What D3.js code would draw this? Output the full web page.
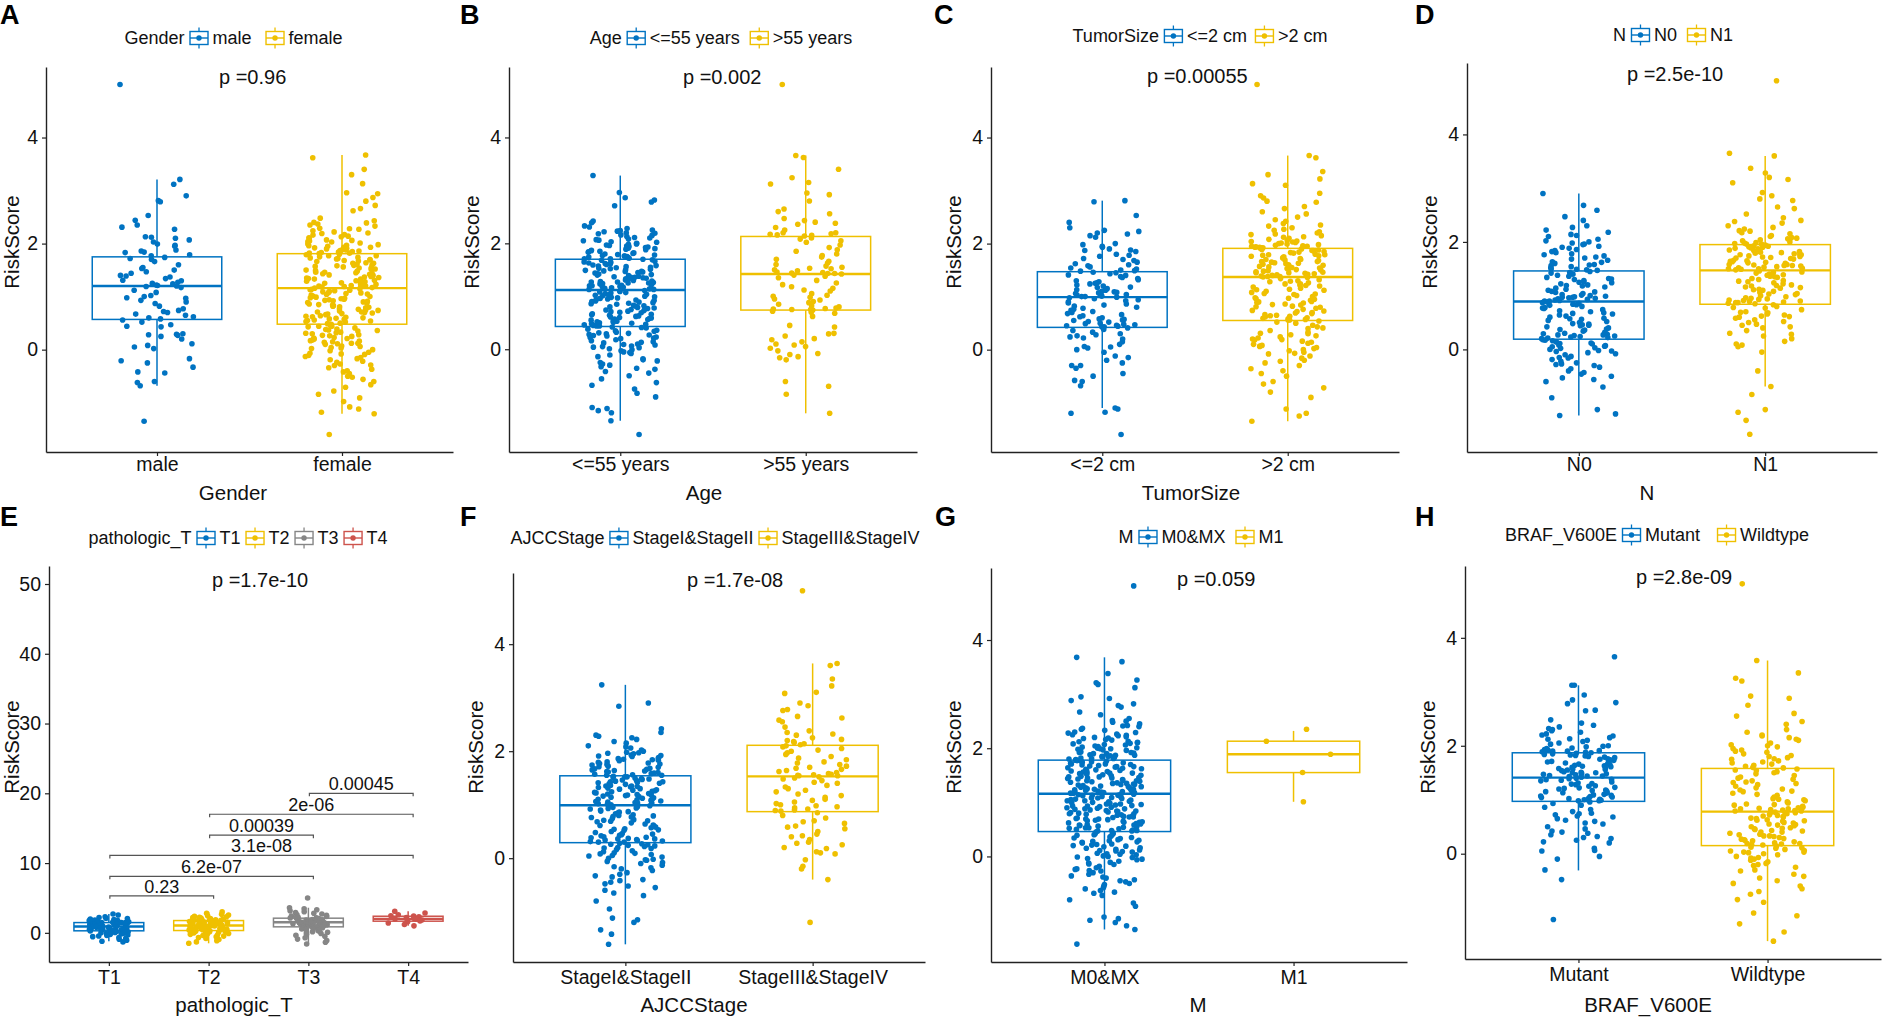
<!DOCTYPE html>
<html><head><meta charset="utf-8">
<script src="https://cdn.jsdelivr.net/npm/d3@7"></script>
<style>
body{margin:0;background:#fff}
svg{display:block}
text{font-family:"Liberation Sans",Arial,Helvetica,sans-serif}
</style>
</head><body>
<svg id="c" width="1882" height="1018"></svg>
<script>
// ---------------- DATA ----------------
const panelLetters = ["A","B","C","D","E","F","G","H"];
const varNames = ["Gender","Age","TumorSize","N","pathologic_T","AJCCStage","M","BRAF_V600E"];
const categories = [
  ["male","female"],["<=55 years",">55 years"],["<=2 cm",">2 cm"],["N0","N1"],
  ["T1","T2","T3","T4"],["StageI&StageII","StageIII&StageIV"],["M0&MX","M1"],["Mutant","Wildtype"]
];
const pLabels = ["p =0.96","p =0.002","p =0.00055","p =2.5e-10","p =1.7e-10","p =1.7e-08","p =0.059","p =2.8e-09"];
const yTicksSmall = [0,2,4];
const yTicksT = [0,10,20,30,40,50];
const pLabelValueT = 50;   // label.y of the overall p-value in panel E

// box statistics: [q1, median, q3, lower whisker, upper whisker]
const statsGender = [[.57,1.20,1.75,-.68,3.21],[.48,1.16,1.81,-1.21,3.67]];
const statsAge    = [[.43,1.12,1.70,-1.35,3.28],[.74,1.42,2.13,-1.21,3.66]];
const statsSize   = [[.42,.99,1.47,-1.10,2.81],[.55,1.37,1.91,-1.35,3.66]];
const statsN      = [[.19,.89,1.46,-1.23,2.90],[.84,1.47,1.95,-.69,3.60]];
const statsT      = [[.29,.90,1.47,-1.2,2.7],[.33,1.05,1.76,-1.5,3.0],[.86,1.52,2.10,-1.6,3.6],[1.67,2.0,2.38,1.0,3.1]];
const statsStage  = [[.29,.99,1.54,-1.61,3.24],[.87,1.53,2.11,-.40,3.64]];
const statsM      = [[.46,1.16,1.78,-1.35,3.68],[1.55,1.89,2.13,1.01,2.32]];
const statsBraf   = [[.97,1.41,1.87,-.31,3.12],[.15,.78,1.58,-1.62,3.58]];

// individual RiskScore values per group
const male = [5.0,-1.35,3.21,3.12,2.9,2.81,2.79,2.53,2.44,2.35,2.31,2.27,2.13,2.12,2.1,2.07,2.03,1.99,1.97,1.95,1.88,1.86,1.84,1.83,1.79,1.77,1.74,1.72,1.7,1.66,1.6,1.55,1.53,1.5,1.47,1.44,1.4,1.39,1.37,1.34,1.31,1.3,1.27,1.25,1.24,1.22,1.21,1.2,1.19,1.17,1.12,1.08,1.02,1.0,.98,.97,.93,.9,.87,.82,.77,.74,.72,.7,.67,.65,.62,.6,.58,.56,.52,.47,.44,.43,.3,.29,.28,.27,.25,.2,.11,.08,.05,.02,-.17,-.21,-.25,-.33,-.42,-.44,-.6,-.62,-.68];
const female = [3.67,3.62,3.4,3.3,3.13,2.96,2.94,2.87,2.8,2.72,2.66,2.62,2.48,2.43,2.4,2.39,2.37,2.35,2.33,2.29,2.27,2.24,2.22,2.2,2.19,2.17,2.14,2.13,2.11,2.1,2.07,2.06,2.04,2.03,2.01,1.99,1.98,1.96,1.95,1.93,1.92,1.91,1.9,1.88,1.87,1.86,1.85,1.84,1.83,1.82,1.82,1.8,1.79,1.77,1.77,1.75,1.73,1.72,1.71,1.7,1.68,1.67,1.66,1.64,1.63,1.61,1.6,1.59,1.57,1.56,1.55,1.54,1.52,1.5,1.49,1.48,1.46,1.45,1.44,1.42,1.41,1.4,1.38,1.36,1.35,1.34,1.33,1.31,1.3,1.29,1.28,1.26,1.25,1.24,1.23,1.21,1.2,1.2,1.19,1.18,1.17,1.16,1.15,1.14,1.12,1.11,1.1,1.08,1.07,1.06,1.04,1.03,1.01,1.0,.99,.97,.96,.95,.93,.92,.9,.89,.88,.86,.84,.83,.82,.8,.79,.77,.75,.74,.73,.71,.7,.69,.67,.66,.64,.63,.61,.6,.58,.57,.56,.54,.53,.52,.5,.49,.48,.46,.44,.43,.41,.38,.37,.35,.32,.31,.3,.28,.27,.25,.23,.22,.2,.18,.16,.15,.12,.11,.1,.07,.06,.04,.02,0,-.02,-.05,-.08,-.11,-.13,-.17,-.19,-.22,-.27,-.3,-.34,-.37,-.42,-.45,-.5,-.56,-.6,-.66,-.71,-.78,-.84,-.91,-.98,-1.08,-1.12,-1.18,-1.21,-1.6,
  1.93,1.74,1.52,1.37,1.28,1.09,.98,.85,.71,.62,.44,.33,.21,.14,-.09,-.29,-.52,2.16,2.05,1.88,1.69,1.58,1.46,1.33,1.19,1.05,.94,.81,.68,.55,.39,.26,.12,.03,-.15,-.4,2.28,1.97,1.81,1.63,1.43,1.27,1.13,.91,.76,.59,.36,.17,-.07,-.24];
const ageLe55 = [3.28,2.96,2.86,2.82,2.78,2.71,2.42,2.39,2.33,2.31,2.28,2.25,2.23,2.22,2.2,2.18,2.16,2.15,2.13,2.1,2.08,2.07,2.05,2.03,2.02,2.0,1.99,1.98,1.96,1.95,1.93,1.92,1.91,1.9,1.88,1.87,1.86,1.85,1.84,1.83,1.81,1.8,1.79,1.78,1.77,1.76,1.75,1.74,1.73,1.72,1.71,1.71,1.69,1.68,1.66,1.65,1.64,1.62,1.61,1.6,1.59,1.57,1.56,1.55,1.54,1.53,1.51,1.5,1.49,1.48,1.47,1.46,1.44,1.43,1.42,1.41,1.4,1.38,1.37,1.36,1.35,1.34,1.33,1.31,1.3,1.29,1.28,1.27,1.26,1.25,1.24,1.23,1.22,1.21,1.2,1.19,1.18,1.17,1.16,1.15,1.14,1.13,1.13,1.11,1.1,1.09,1.07,1.06,1.05,1.03,1.02,1.0,.99,.98,.96,.95,.93,.92,.91,.89,.88,.86,.85,.83,.82,.8,.79,.77,.76,.74,.73,.72,.7,.69,.67,.66,.64,.63,.61,.6,.58,.57,.56,.54,.53,.51,.5,.48,.47,.46,.45,.44,.44,.42,.4,.38,.36,.34,.32,.3,.29,.27,.26,.25,.23,.22,.2,.18,.16,.14,.12,.1,.08,.06,.05,.03,.01,-.01,-.03,-.05,-.08,-.11,-.14,-.18,-.22,-.25,-.28,-.3,-.33,-.38,-.42,-.45,-.5,-.56,-.63,-.68,-.75,-.83,-.9,-1.1,-1.12,-1.16,-1.2,-1.35,-1.61,
  2.19,2.06,1.94,1.82,1.7,1.63,1.52,1.45,1.39,1.32,1.25,1.18,1.08,1.01,.94,.87,.78,.71,.62,.55,.49,.41,.35,.28,.21,.13,.04,-.06,-.2,-.36,2.24,2.11,1.97,1.89,1.76,1.58,1.47,1.36,1.27,1.2,1.04,.97,.9,.81,.75,.65,.59,.52,.31,.09];
const ageGt55 = [5.0,3.66,3.62,3.4,3.24,3.15,3.12,2.95,2.92,2.8,2.65,2.6,2.56,2.47,2.43,2.4,2.38,2.36,2.3,2.25,2.2,2.2,2.18,2.17,2.16,2.15,2.14,2.1,2.08,2.05,2.02,1.97,1.92,1.88,1.85,1.8,1.77,1.74,1.7,1.66,1.63,1.6,1.57,1.55,1.53,1.52,1.5,1.48,1.46,1.45,1.44,1.43,1.43,1.42,1.4,1.38,1.35,1.3,1.25,1.22,1.18,1.15,1.12,1.1,1.05,1.02,1.0,.98,.95,.93,.9,.88,.85,.82,.8,.78,.77,.76,.75,.75,.74,.72,.7,.68,.62,.45,.42,.3,.29,.25,.2,.18,.14,.1,.08,.05,.02,-.03,-.08,-.1,-.14,-.16,-.2,-.61,-.7,-.85,-1.21];
const sizeLe2 = [2.81,2.79,2.53,2.4,2.3,2.25,2.23,2.2,2.18,2.15,2.12,2.0,1.98,1.95,1.93,1.9,1.88,1.87,1.85,1.8,1.78,1.76,1.72,1.7,1.68,1.65,1.62,1.6,1.58,1.56,1.54,1.52,1.5,1.49,1.48,1.46,1.45,1.43,1.41,1.4,1.38,1.36,1.34,1.32,1.3,1.28,1.26,1.25,1.24,1.22,1.2,1.18,1.17,1.15,1.14,1.13,1.12,1.1,1.09,1.08,1.07,1.06,1.05,1.04,1.03,1.02,1.01,1.0,1.0,.99,.98,.96,.94,.92,.9,.88,.86,.84,.82,.8,.78,.76,.74,.72,.7,.68,.66,.64,.62,.6,.58,.57,.56,.55,.53,.52,.5,.49,.48,.47,.46,.45,.44,.43,.43,.41,.38,.36,.33,.3,.28,.26,.24,.22,.2,.15,.1,.06,.05,.03,0,-.05,-.12,-.15,-.2,-.25,-.3,-.3,-.35,-.45,-.5,-.58,-.6,-.68,-1.1,-1.12,-1.18,-1.2,-1.6];
const sizeGt2 = [5.0,3.66,3.62,3.36,3.3,3.22,3.13,3.1,2.95,2.9,2.86,2.8,2.78,2.7,2.66,2.6,2.56,2.5,2.45,2.42,2.38,2.35,2.33,2.3,2.27,2.25,2.22,2.2,2.18,2.15,2.13,2.12,2.1,2.08,2.06,2.05,2.03,2.02,2.01,2.0,1.99,1.98,1.97,1.96,1.95,1.94,1.93,1.93,1.92,1.92,1.9,1.89,1.88,1.87,1.86,1.85,1.84,1.83,1.82,1.8,1.79,1.78,1.77,1.76,1.75,1.73,1.72,1.7,1.69,1.68,1.66,1.65,1.64,1.63,1.62,1.6,1.59,1.58,1.57,1.56,1.55,1.54,1.52,1.51,1.5,1.49,1.48,1.47,1.46,1.45,1.44,1.43,1.42,1.41,1.4,1.39,1.38,1.38,1.36,1.34,1.32,1.3,1.28,1.26,1.24,1.22,1.2,1.18,1.16,1.14,1.12,1.1,1.08,1.06,1.04,1.02,1.0,.98,.96,.95,.93,.91,.9,.88,.86,.84,.82,.8,.78,.76,.74,.72,.7,.69,.68,.66,.65,.64,.62,.6,.59,.58,.57,.56,.56,.54,.5,.46,.43,.4,.36,.33,.3,.28,.26,.24,.22,.2,.18,.16,.14,.12,.1,.08,.06,.04,.02,0,-.02,-.05,-.08,-.12,-.16,-.2,-.25,-.3,-.36,-.4,-.45,-.5,-.6,-.65,-.72,-.8,-.9,-1.12,-1.2,-1.25,-1.35,
  2.17,2.04,1.95,1.87,1.79,1.7,1.61,1.53,1.45,1.37,1.29,1.21,1.13,1.05,.97,.89,.81,.73,.63,.52,.41,.31,.19,.07,-.07,-.22,1.91,1.66,1.24,.85];
const nodeN0 = [2.9,2.68,2.59,2.47,2.4,2.3,2.27,2.22,2.18,2.14,2.12,2.1,2.05,2.02,2.0,1.98,1.95,1.92,1.9,1.88,1.86,1.84,1.82,1.8,1.78,1.76,1.72,1.7,1.68,1.66,1.63,1.6,1.58,1.56,1.54,1.52,1.5,1.49,1.48,1.47,1.45,1.43,1.41,1.4,1.38,1.36,1.34,1.32,1.3,1.28,1.26,1.24,1.22,1.2,1.18,1.16,1.14,1.12,1.1,1.08,1.06,1.04,1.02,1.01,1.0,.99,.98,.97,.96,.95,.94,.93,.92,.91,.9,.9,.88,.86,.84,.82,.8,.78,.76,.74,.72,.7,.68,.66,.64,.62,.6,.58,.56,.54,.52,.5,.48,.46,.44,.42,.4,.38,.36,.34,.32,.3,.29,.28,.27,.26,.25,.24,.23,.22,.21,.2,.18,.16,.14,.12,.1,.08,.06,.05,.03,.02,0,-.02,-.04,-.06,-.08,-.1,-.13,-.16,-.19,-.22,-.25,-.28,-.3,-.33,-.36,-.4,-.43,-.46,-.5,-.53,-.56,-.6,-.7,-.9,-1.12,-1.2,-1.23,
  1.96,1.74,1.57,1.42,1.31,1.19,1.07,.97,.87,.77,.67,.57,.47,.37,.27,.17,.07,-.03,-.15,-.27,1.62,1.25,.83,.45,.11];
const nodeN1 = [5.0,3.65,3.6,3.37,3.28,3.2,3.16,3.1,2.92,2.86,2.8,2.77,2.65,2.62,2.52,2.45,2.4,2.38,2.35,2.3,2.27,2.24,2.2,2.17,2.15,2.12,2.1,2.08,2.06,2.04,2.02,2.0,1.99,1.98,1.97,1.96,1.94,1.93,1.92,1.9,1.89,1.88,1.86,1.85,1.84,1.82,1.81,1.8,1.78,1.77,1.76,1.74,1.73,1.72,1.7,1.69,1.68,1.66,1.65,1.64,1.62,1.61,1.6,1.58,1.57,1.56,1.55,1.54,1.53,1.52,1.51,1.5,1.49,1.48,1.46,1.44,1.42,1.4,1.38,1.36,1.34,1.32,1.3,1.28,1.26,1.24,1.22,1.2,1.18,1.16,1.14,1.12,1.1,1.08,1.06,1.04,1.02,1.0,.98,.96,.94,.93,.92,.91,.9,.89,.88,.87,.86,.85,.83,.8,.77,.74,.7,.68,.66,.64,.62,.6,.58,.55,.52,.5,.47,.45,.42,.4,.35,.3,.28,.25,.2,.15,.1,.08,.05,-.05,-.4,-.69,-.84,-1.12,-1.17,-1.32,-1.58,
  2.21,2.07,1.96,1.87,1.79,1.71,1.63,1.56,1.5,1.43,1.35,1.27,1.19,1.11,1.03,.95,.87,.78,.69,.61,1.91,1.76,1.58,1.39,1.15];
const stageT1 = [2.7,2.55,2.3,2.2,2.1,2.05,1.98,1.92,1.85,1.8,1.75,1.7,1.66,1.62,1.58,1.55,1.52,1.5,1.48,1.46,1.43,1.4,1.37,1.34,1.31,1.28,1.25,1.22,1.19,1.15,1.12,1.09,1.05,1.02,.99,.96,.93,.91,.88,.85,.82,.79,.76,.72,.69,.66,.62,.58,.55,.51,.47,.44,.4,.36,.33,.3,.27,.24,.2,.16,.12,.08,.04,0,-.05,-.1,-.16,-.22,-.3,-.38,-.46,-.55,-.66,-.78,-.92,-1.05,-1.2,-1.3];
const stageT2 = [3.0,2.8,2.65,2.55,2.45,2.38,2.3,2.24,2.18,2.12,2.06,2.0,1.96,1.92,1.88,1.84,1.8,1.78,1.76,1.73,1.7,1.66,1.62,1.58,1.55,1.52,1.48,1.45,1.42,1.38,1.35,1.32,1.28,1.25,1.22,1.18,1.15,1.12,1.09,1.06,1.04,1.01,.98,.95,.92,.88,.85,.82,.78,.75,.72,.68,.65,.62,.58,.55,.52,.48,.45,.42,.39,.36,.34,.31,.28,.24,.2,.16,.12,.08,.04,0,-.05,-.1,-.16,-.22,-.3,-.38,-.47,-.56,-.67,-.8,-.95,-1.12,-1.3,-1.5];
const stageT3 = [5.0,3.6,3.45,3.3,3.15,3.02,2.9,2.8,2.7,2.6,2.5,2.42,2.35,2.28,2.22,2.16,2.12,2.08,2.04,2.0,1.96,1.92,1.88,1.84,1.8,1.76,1.72,1.68,1.64,1.6,1.56,1.53,1.5,1.47,1.44,1.4,1.36,1.32,1.28,1.24,1.2,1.16,1.12,1.08,1.04,1.0,.96,.92,.88,.85,.8,.74,.68,.62,.55,.48,.4,.32,.24,.16,.08,0,-.1,-.22,-.35,-.5,-.7,-.9,-1.1,-1.35,-1.6];
const stageT4 = [3.1,2.85,2.6,2.45,2.4,2.3,2.2,2.1,2.0,1.95,1.85,1.75,1.7,1.6,1.4,1.2,1.0];
const ajcc12 = [3.24,2.9,2.84,2.42,2.35,2.3,2.28,2.25,2.22,2.18,2.15,2.1,2.06,2.02,2.0,1.98,1.96,1.95,1.93,1.92,1.9,1.88,1.87,1.86,1.85,1.84,1.82,1.8,1.79,1.78,1.76,1.75,1.74,1.72,1.71,1.7,1.68,1.67,1.66,1.64,1.63,1.62,1.6,1.59,1.58,1.57,1.56,1.55,1.55,1.53,1.52,1.51,1.5,1.49,1.48,1.47,1.46,1.45,1.44,1.43,1.42,1.41,1.4,1.39,1.38,1.36,1.35,1.34,1.33,1.32,1.31,1.3,1.29,1.28,1.26,1.25,1.24,1.23,1.22,1.2,1.19,1.18,1.17,1.16,1.15,1.14,1.13,1.12,1.1,1.09,1.08,1.07,1.06,1.05,1.04,1.03,1.02,1.01,1.0,.98,.96,.95,.93,.92,.9,.88,.86,.85,.83,.81,.8,.78,.76,.74,.72,.71,.7,.68,.66,.64,.62,.6,.58,.57,.55,.53,.52,.5,.48,.46,.45,.43,.42,.4,.39,.38,.37,.36,.35,.34,.33,.32,.31,.3,.3,.28,.26,.25,.24,.23,.22,.2,.18,.16,.14,.12,.1,.08,.07,.05,.04,.02,0,-.02,-.04,-.06,-.08,-.1,-.13,-.16,-.2,-.23,-.27,-.3,-.35,-.4,-.42,-.45,-.48,-.52,-.55,-.6,-.65,-.7,-.8,-.95,-1.12,-1.15,-1.2,-1.34,-1.42,-1.61,
  2.08,1.91,1.77,1.65,1.52,1.43,1.35,1.27,1.18,1.11,1.03,.94,.87,.79,.69,.61,.54,.44,.36,.27,.19,.09,-.03,-.18,-.33,1.97,1.83,1.61,1.21,.77];
const ajcc34 = [5.0,3.64,3.6,3.35,3.22,3.1,3.08,2.9,2.85,2.78,2.76,2.65,2.62,2.58,2.55,2.45,2.38,2.35,2.32,2.3,2.25,2.22,2.2,2.18,2.16,2.14,2.12,2.1,2.08,2.05,2.02,2.0,1.97,1.94,1.9,1.87,1.84,1.8,1.78,1.75,1.72,1.7,1.68,1.66,1.64,1.62,1.6,1.58,1.57,1.56,1.55,1.54,1.54,1.52,1.5,1.48,1.45,1.42,1.4,1.36,1.33,1.3,1.27,1.24,1.2,1.17,1.14,1.1,1.08,1.05,1.02,1.0,.98,.96,.94,.92,.9,.89,.88,.85,.8,.75,.7,.68,.65,.6,.58,.55,.5,.45,.42,.4,.35,.3,.28,.25,.2,.18,.12,.1,.08,-.03,-.15,-.2,-.4,-1.2];
const metaM0 = [5.0,3.68,3.6,3.38,3.26,3.21,3.18,3.12,2.95,2.92,2.88,2.82,2.79,2.76,2.67,2.62,2.55,2.51,2.48,2.45,2.42,2.4,2.37,2.35,2.33,2.3,2.28,2.26,2.25,2.23,2.21,2.2,2.18,2.16,2.15,2.13,2.12,2.1,2.08,2.07,2.06,2.04,2.03,2.02,2.0,1.99,1.98,1.97,1.95,1.94,1.93,1.92,1.91,1.9,1.88,1.87,1.86,1.85,1.84,1.83,1.82,1.81,1.8,1.79,1.77,1.76,1.75,1.73,1.72,1.71,1.7,1.69,1.67,1.66,1.65,1.64,1.62,1.61,1.6,1.59,1.58,1.56,1.55,1.54,1.53,1.52,1.5,1.49,1.48,1.47,1.46,1.45,1.44,1.42,1.41,1.4,1.39,1.38,1.36,1.35,1.34,1.33,1.32,1.31,1.3,1.29,1.27,1.26,1.25,1.24,1.23,1.22,1.21,1.2,1.19,1.18,1.17,1.17,1.15,1.14,1.13,1.12,1.1,1.09,1.08,1.07,1.05,1.04,1.03,1.02,1.0,.99,.98,.97,.95,.94,.93,.92,.9,.89,.88,.86,.85,.84,.83,.81,.8,.79,.78,.76,.75,.74,.73,.71,.7,.69,.68,.66,.65,.64,.63,.61,.6,.59,.58,.56,.55,.54,.53,.51,.5,.49,.48,.47,.45,.43,.42,.4,.38,.36,.35,.33,.31,.3,.28,.26,.25,.23,.21,.2,.18,.16,.15,.13,.11,.1,.08,.06,.05,.03,.01,0,-.02,-.04,-.06,-.09,-.12,-.15,-.18,-.21,-.24,-.27,-.3,-.33,-.36,-.4,-.43,-.47,-.5,-.55,-.58,-.63,-.68,-.72,-.8,-.86,-1.12,-1.15,-1.18,-1.22,-1.28,-1.35,-1.62,
  2.5,2.29,2.19,2.11,2.01,1.96,1.9,1.85,1.81,1.76,1.71,1.68,1.63,1.57,1.51,1.47,1.43,1.37,1.33,1.28,1.24,1.19,1.15,1.11,1.06,1.01,.96,.91,.87,.82,.77,.72,.67,.62,.57,.52,.47,.41,.34,.27,.19,.12,.04,-.05,-.14,-.26,-.38,-.52,-.66,2.41,2.24,2.09,1.99,1.92,1.87,1.78,1.74,1.66,1.59,1.54,1.45,1.4,1.35,1.29,1.22,1.18,1.13,1.08,1.03,.97,.93,.88,.84,.79,.73,.69,.63,.58,.53,.48,.39,.29,.22,.09,-.01,-.11,-.23,-.45,-.6,-.92];
const metaM1 = [2.35,2.13,1.89,1.55,1.01];
const brafMut = [3.65,3.12,3.12,2.94,2.85,2.8,2.78,2.66,2.65,2.48,2.42,2.38,2.35,2.32,2.3,2.28,2.25,2.22,2.2,2.18,2.15,2.13,2.1,2.08,2.05,2.03,2.0,1.98,1.96,1.95,1.93,1.92,1.91,1.9,1.89,1.88,1.86,1.85,1.84,1.83,1.82,1.8,1.79,1.78,1.76,1.75,1.74,1.72,1.71,1.7,1.68,1.67,1.66,1.64,1.63,1.62,1.6,1.59,1.58,1.56,1.55,1.54,1.52,1.51,1.5,1.49,1.48,1.47,1.46,1.45,1.44,1.43,1.42,1.42,1.4,1.38,1.37,1.35,1.33,1.31,1.3,1.28,1.26,1.25,1.23,1.21,1.2,1.18,1.16,1.15,1.13,1.12,1.1,1.09,1.08,1.06,1.05,1.04,1.03,1.02,1.01,1.0,.99,.98,.98,.96,.93,.9,.86,.82,.78,.75,.72,.7,.68,.65,.62,.6,.57,.55,.5,.46,.42,.4,.38,.35,.32,.3,.28,.25,.22,.2,.1,.06,.05,-.05,-.1,-.3,-.48,-1.22,
  2.12,1.99,1.9,1.81,1.73,1.65,1.57,1.5,1.44,1.36,1.29,1.22,1.14,1.07,1.0,1.87,1.61,1.39,1.17,.74];
const brafWt = [5.0,3.58,3.35,3.25,3.2,2.92,2.88,2.75,2.6,2.55,2.45,2.4,2.3,2.25,2.2,2.18,2.15,2.12,2.1,2.05,2.02,2.0,1.98,1.95,1.92,1.9,1.88,1.85,1.82,1.8,1.78,1.75,1.72,1.7,1.68,1.66,1.64,1.62,1.6,1.59,1.57,1.55,1.52,1.5,1.48,1.45,1.42,1.4,1.38,1.35,1.32,1.3,1.28,1.25,1.22,1.2,1.18,1.15,1.12,1.1,1.08,1.05,1.02,1.0,.98,.96,.94,.92,.9,.88,.86,.85,.84,.83,.82,.81,.8,.79,.79,.77,.76,.75,.74,.72,.71,.7,.68,.66,.65,.63,.62,.6,.58,.57,.55,.53,.52,.5,.48,.46,.45,.43,.42,.4,.38,.36,.35,.33,.32,.3,.28,.27,.25,.24,.22,.2,.19,.18,.17,.16,.14,.12,.1,.08,.06,.05,.03,.02,0,-.02,-.05,-.08,-.1,-.12,-.15,-.18,-.2,-.25,-.3,-.32,-.38,-.42,-.45,-.5,-.55,-.6,-.65,-.7,-.75,-.85,-.9,-1.1,-1.15,-1.3,-1.45,-1.62,
  1.76,1.54,1.33,1.16,1.01,.91,.83,.76,.69,.61,.54,.47,.4,.33,.26,.19,.11,.03,-.07,-.22];

// pairwise comparisons in panel E
const compPairs  = [["T1","T2"],["T1","T3"],["T1","T4"],["T2","T3"],["T2","T4"],["T3","T4"]];
const compLabels = ["0.23","6.2e-07","3.1e-08","0.00039","2e-06","0.00045"];
const compLevels = [5.3,8.1,11.1,14.0,17.0,20.0];

const groupValues = [[male,female],[ageLe55,ageGt55],[sizeLe2,sizeGt2],[nodeN0,nodeN1],
  [stageT1,stageT2,stageT3,stageT4],[ajcc12,ajcc34],[metaM0,metaM1],[brafMut,brafWt]];
const groupStats = [statsGender,statsAge,statsSize,statsN,statsT,statsStage,statsM,statsBraf];

// ---------------- LAYOUT / STYLE ----------------
const palette = ["#0073C2","#EFC000","#868686","#CD534C"];
const FONT_TICK = 19.5, FONT_LEG = 18, FONT_TITLE = 20.5, FONT_P = 20, FONT_LETTER = 27;
const layout = [
  {box:[46,67,453,452],   letter:[0,24],     legend:[233.5,38,14], pLab:[219,77],  xTitle:233,  row:0},
  {box:[509,67,917,452],  letter:[460,24],   legend:[721,38,10],   pLab:[683,77],  xTitle:704,  row:0},
  {box:[991,67,1399,452], letter:[934,24],   legend:[1200,36,8],   pLab:[1147,76], xTitle:1191, row:0},
  {box:[1467,63,1877,452],letter:[1415,24],  legend:[1673,35,10],  pLab:[1627,74], xTitle:1647, row:0},
  {box:[49,566,468,962],  letter:[0,526],    legend:[238,538,5],   pLab:[212,580], xTitle:234,  row:1},
  {box:[513,573,925,962], letter:[460,526],  legend:[715,538,5],   pLab:[687,580], xTitle:694,  row:1},
  {box:[991,568,1407,962],letter:[935,526],  legend:[1201,537,10], pLab:[1177,579],xTitle:1198, row:1},
  {box:[1465,566,1881,959],letter:[1415,526],legend:[1657,535,17], pLab:[1636,577],xTitle:1648, row:1}
];
const rowYTitle = [242,747], rowXTitleBase = [500,1012], rowTickPad = [1,4];

const svg = d3.select("#c");

function jit(i, s){ const v = Math.sin(i*127.1 + s*311.7)*43758.5453; return (v-Math.floor(v))*2-1; }

function drawPanel(pi){
  const lay = layout[pi];
  const [L,T,R,B] = lay.box;
  const cats = categories[pi];
  const vals = groupValues[pi];
  const stats = groupStats[pi];
  const g = svg.append("g");

  const x = d3.scalePoint().domain(cats).range([L,R]).padding(0.6);
  const step = x.step();
  let all = vals.flat();
  if (pi === 4) all = all.concat([pLabelValueT]);
  const [mn,mx] = d3.extent(all);
  const pad = (mx-mn)*0.05;
  const y = d3.scaleLinear().domain([mn-pad, mx+pad]).range([B,T]);

  // boxes
  cats.forEach((c,k)=>{
    const [q1,med,q3,lo,hi] = stats[k];
    const col = palette[k];
    const cx = x(c), hw = step*0.35;
    const bg = g.append("g");
    bg.append("line").attr("x1",cx).attr("x2",cx).attr("y1",y(hi)).attr("y2",y(q3))
      .attr("stroke",col).attr("stroke-width",1.5);
    bg.append("line").attr("x1",cx).attr("x2",cx).attr("y1",y(q1)).attr("y2",y(lo))
      .attr("stroke",col).attr("stroke-width",1.5);
    bg.append("rect").attr("x",cx-hw).attr("width",hw*2).attr("y",y(q3)).attr("height",y(q1)-y(q3))
      .attr("fill","white").attr("stroke",col).attr("stroke-width",1.5);
    bg.append("line").attr("x1",cx-hw).attr("x2",cx+hw).attr("y1",y(med)).attr("y2",y(med))
      .attr("stroke",col).attr("stroke-width",2.4);
  });
  // jittered points
  cats.forEach((c,k)=>{
    const col = palette[k];
    g.append("g").selectAll("circle").data(vals[k]).join("circle")
      .attr("cx",(d,i)=>x(c) + jit(i, pi*10+k)*0.2*step)
      .attr("cy",d=>y(d)).attr("r",2.8).attr("fill",col);
  });

  // axes
  const ya = g.append("g").attr("transform",`translate(${L},0)`)
    .call(d3.axisLeft(y).tickValues(pi===4?yTicksT:yTicksSmall).tickSize(4).tickSizeOuter(0).tickPadding(4));
  const xa = g.append("g").attr("transform",`translate(0,${B})`)
    .call(d3.axisBottom(x).tickSize(4).tickSizeOuter(0).tickPadding(rowTickPad[lay.row]));
  [ya,xa].forEach(a=>{
    a.select(".domain").attr("stroke","#222").attr("stroke-width",1.4);
    a.selectAll(".tick line").attr("stroke","#222").attr("stroke-width",1.2);
    a.selectAll(".tick text").attr("fill","#111").style("font-size",FONT_TICK+"px")
      .style("font-family",'"Liberation Sans",Arial,sans-serif');
  });

  // axis titles
  g.append("text").attr("x",lay.xTitle).attr("y",rowXTitleBase[lay.row]).attr("text-anchor","middle")
    .style("font-size",FONT_TITLE+"px").attr("fill","#111").text(varNames[pi]);
  g.append("text").attr("transform",`translate(${Math.max(L-38,11.5)},${rowYTitle[lay.row]}) rotate(-90)`)
    .attr("text-anchor","middle").attr("dominant-baseline","central")
    .style("font-size",FONT_TITLE+"px").attr("fill","#111").text("RiskScore");

  // p label
  g.append("text").attr("x",lay.pLab[0]).attr("y",lay.pLab[1]).attr("dominant-baseline","central")
    .style("font-size",FONT_P+"px").attr("fill","#111").text(pLabels[pi]);

  // panel letter
  g.append("text").attr("x",lay.letter[0]).attr("y",lay.letter[1])
    .style("font-size",FONT_LETTER+"px").style("font-weight","bold").attr("fill","#000").text(panelLetters[pi]);

  // legend
  const [lcx,lcy,gap] = lay.legend;
  const lg = g.append("g");
  let cur = 0;
  const tt = lg.append("text").attr("x",cur).attr("y",0).attr("dominant-baseline","central")
    .style("font-size",FONT_LEG+"px").attr("fill","#111").text(varNames[pi]);
  cur += tt.node().getComputedTextLength() + 5;
  cats.forEach((c,k)=>{
    const col = palette[k];
    const kg = lg.append("g").attr("transform",`translate(${cur},0)`);
    kg.append("line").attr("x1",9.5).attr("x2",9.5).attr("y1",-10.5).attr("y2",10.5).attr("stroke",col).attr("stroke-width",1.3);
    kg.append("rect").attr("x",0.5).attr("y",-6.5).attr("width",18).attr("height",13)
      .attr("fill","white").attr("stroke",col).attr("stroke-width",1.4);
    kg.append("line").attr("x1",0.5).attr("x2",18.5).attr("y1",0).attr("y2",0).attr("stroke",col).attr("stroke-width",1.4);
    kg.append("circle").attr("cx",9.5).attr("cy",0).attr("r",2.7).attr("fill",col);
    cur += 19 + 4;
    const lt = lg.append("text").attr("x",cur).attr("y",0).attr("dominant-baseline","central")
      .style("font-size",FONT_LEG+"px").attr("fill","#111").text(c);
    cur += lt.node().getComputedTextLength();
    if (k < cats.length-1) cur += gap;
  });
  lg.attr("transform",`translate(${lcx-cur/2},${lcy})`);

  // significance brackets (panel E)
  if (pi === 4){
    compPairs.forEach((pr,j)=>{
      const x1 = x(pr[0]) + 1, x2 = x(pr[1]) + 5, yy = y(compLevels[j]);
      g.append("path").attr("d",`M${x1},${yy+3}V${yy}H${x2}V${yy+3}`)
        .attr("fill","none").attr("stroke","#555").attr("stroke-width",1.2);
      g.append("text").attr("x",(x1+x2)/2).attr("y",yy-3).attr("text-anchor","middle")
        .style("font-size","18px").attr("fill","#111").text(compLabels[j]);
    });
  }
}

for (let i=0;i<8;i++) drawPanel(i);
</script>
</body></html>
